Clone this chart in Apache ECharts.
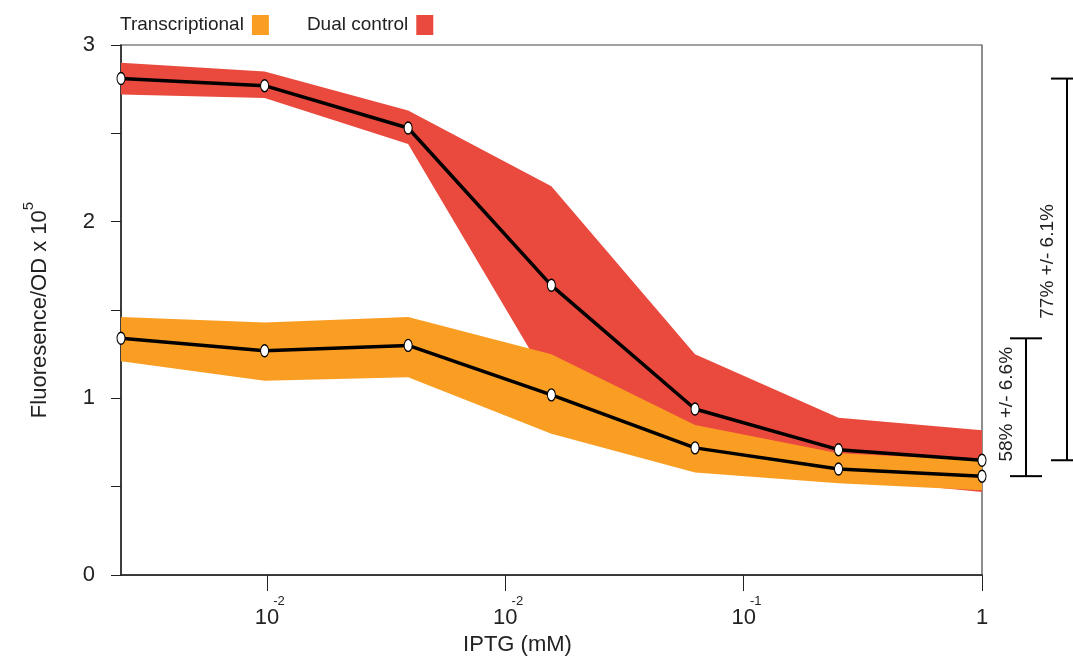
<!DOCTYPE html>
<html>
<head>
<meta charset="utf-8">
<script src="https://cdn.jsdelivr.net/npm/echarts@6/dist/echarts.min.js"></script>
<style>
    html, body { margin: 0; padding: 0; background: #fff; }
    #chart { width: 1073px; height: 661px; }
</style>
</head>
<body>
<div id="chart"></div>
<script>
    /*----------  data  ----------*/
    var doses = [0.000244, 0.000977, 0.00391, 0.0156, 0.0625, 0.25, 1];   // IPTG (mM), 4-fold dilutions

    var dualMean  = [2.81, 2.77, 2.53, 1.64, 0.94, 0.71, 0.65];
    var dualUpper = [2.90, 2.85, 2.63, 2.20, 1.25, 0.89, 0.82];
    var dualLower = [2.72, 2.70, 2.44, 1.07, 0.62, 0.55, 0.47];

    var transMean  = [1.34, 1.27, 1.30, 1.02, 0.72, 0.60, 0.56];
    var transUpper = [1.46, 1.43, 1.46, 1.25, 0.85, 0.69, 0.65];
    var transLower = [1.21, 1.10, 1.12, 0.80, 0.58, 0.52, 0.48];

    var xTickValues = [0.001, 0.01, 0.1, 1];
    var xTickLabels = [['10', '-2'], ['10', '-2'], ['10', '-1'], ['1', '']];

    var bracketLabels = ['58% +/- 6.6%', '77% +/- 6.1%'];

    var FONT = '"Liberation Sans", Arial, Helvetica, sans-serif';
    var RED = '#E94A3D';
    var ORANGE = '#F99E22';

    /*----------  helpers  ----------*/
    function pairs(xs, ys) {
        return xs.map(function (x, i) { return [x, ys[i]]; });
    }
    function triples(xs, lo, hi) {
        return xs.map(function (x, i) { return [x, lo[i], hi[i]]; });
    }

    // the whole band is one polygon: upper edge left->right, lower edge back
    function bandSeries(name, lo, hi, color) {
        return {
            name: name,
            type: 'custom',
            data: triples(doses, lo, hi),
            clip: false,
            silent: true,
            itemStyle: { color: color },
            encode: { x: 0, y: [1, 2] },
            renderItem: function (params, api) {
                if (params.dataIndexInside !== 0) return;
                var n = doses.length;
                var upper = [], lower = [];
                for (var i = 0; i < n; i++) {
                    upper.push(api.coord([api.value(0, i), api.value(2, i)]));
                    lower.push(api.coord([api.value(0, i), api.value(1, i)]));
                }
                return {
                    type: 'polygon',
                    shape: { points: upper.concat(lower.reverse()) },
                    style: { fill: color }
                };
            }
        };
    }

    function meanSeries(name, ys) {
        return {
            name: name,
            type: 'line',
            data: pairs(doses, ys),
            clip: false,
            symbol: 'circle',
            symbolSize: [8, 12],
            lineStyle: { color: '#000', width: 3.5 },
            itemStyle: { color: '#fff', borderColor: '#000', borderWidth: 1.2 },
            z: 5,
            silent: true
        };
    }

    var bracketData = [
        [doses[doses.length - 1], transMean[0], transMean[transMean.length - 1]],
        [doses[doses.length - 1], dualMean[0], dualMean[dualMean.length - 1]]
    ];

    var chart = echarts.init(document.getElementById('chart'), null, { renderer: 'canvas' });

    var option = {
        animation: false,
        backgroundColor: '#fff',
        textStyle: { fontFamily: FONT },
        grid: {
            left: 121, right: 91, top: 45, bottom: 83,
            show: true, borderColor: '#444', borderWidth: 1.2,
            backgroundColor: 'transparent'
        },
        legend: {
            data: [
                { name: 'Transcriptional', itemStyle: { color: ORANGE } },
                { name: 'Dual control', itemStyle: { color: RED } }
            ],
            left: 115, top: 10,
            icon: 'rect',
            align: 'right',
            itemWidth: 17, itemHeight: 20,
            itemGap: 38,
            textStyle: { fontSize: 19, color: '#222', fontFamily: FONT, padding: [0, 3, 0, 0] }
        },
        xAxis: {
            type: 'log',
            logBase: 10,
            min: doses[0],
            max: doses[doses.length - 1],
            name: 'IPTG (mM)',
            nameLocation: 'middle',
            nameGap: 56,
            nameTextStyle: { fontSize: 22, color: '#222', fontFamily: FONT, padding: [0, 68, 0, 0] },
            axisLine: { lineStyle: { color: '#222', width: 1.5 } },
            axisTick: { show: true, length: 16, lineStyle: { color: '#222', width: 1 }, customValues: xTickValues },
            splitLine: { show: false },
            axisLabel: {
                customValues: xTickValues,
                margin: 20,
                formatter: function (v) {
                    var idx = -1;
                    for (var i = 0; i < xTickValues.length; i++) {
                        if (Math.abs(Math.log10(v) - Math.log10(xTickValues[i])) < 1e-6) { idx = i; }
                    }
                    if (idx < 0) return '';
                    var t = xTickLabels[idx];
                    return '{sup|' + (t[1] || ' ') + '}\n{b|' + t[0] + '}';
                },
                rich: {
                    sup: { fontSize: 13, lineHeight: 12, color: '#222', fontFamily: FONT, padding: [0, 0, 0, 24] },
                    b: { fontSize: 22, lineHeight: 22, color: '#222', fontFamily: FONT }
                }
            }
        },
        yAxis: {
            type: 'value',
            min: 0, max: 3, interval: 0.5,
            name: '{a|Fluoresence/OD x 10}{s|5}',
            nameLocation: 'middle',
            nameRotate: 90,
            nameGap: 70,
            nameTextStyle: {
                rich: {
                    a: { fontSize: 22, color: '#222', fontFamily: FONT, lineHeight: 30, verticalAlign: 'bottom' },
                    s: { fontSize: 15, color: '#222', fontFamily: FONT, verticalAlign: 'top', lineHeight: 30 }
                }
            },
            axisLine: { show: true, lineStyle: { color: '#222', width: 1.5 } },
            axisTick: { show: true, length: 10, lineStyle: { color: '#222', width: 1 } },
            splitLine: { show: false },
            axisLabel: {
                margin: 26,
                fontSize: 22,
                color: '#222',
                fontFamily: FONT,
                formatter: function (v) { return v % 1 === 0 ? String(v) : ''; }
            }
        },
        series: [
            bandSeries('Dual control', dualLower, dualUpper, RED),
            bandSeries('Transcriptional', transLower, transUpper, ORANGE),
            meanSeries('Dual control mean', dualMean),
            meanSeries('Transcriptional mean', transMean),
            {
                name: 'brackets',
                type: 'custom',
                clip: false,
                silent: true,
                data: bracketData,
                z: 6,
                renderItem: function (params, api) {
                    var top = api.coord([api.value(0), api.value(1)]);
                    var bot = api.coord([api.value(0), api.value(2)]);
                    var off = params.dataIndex === 0 ? 44 : 85;
                    var x = top[0] + off;
                    var st = { stroke: '#000', lineWidth: 2 };
                    return {
                        type: 'group',
                        children: [
                            { type: 'line', shape: { x1: x, y1: top[1], x2: x, y2: bot[1] }, style: st },
                            { type: 'line', shape: { x1: x - 16, y1: top[1], x2: x + 16, y2: top[1] }, style: st },
                            { type: 'line', shape: { x1: x - 16, y1: bot[1], x2: x + 16, y2: bot[1] }, style: st },
                            {
                                type: 'text',
                                x: x - 19,
                                y: (top[1] + bot[1]) / 2 - (params.dataIndex === 0 ? 3 : 8),
                                rotation: Math.PI / 2,
                                style: {
                                    text: bracketLabels[params.dataIndex],
                                    fontSize: 19,
                                    fontFamily: FONT,
                                    fill: '#222',
                                    align: 'center',
                                    verticalAlign: 'middle'
                                }
                            }
                        ]
                    };
                }
            }
        ]
    };

    chart.setOption(option);
</script>
</body>
</html>
